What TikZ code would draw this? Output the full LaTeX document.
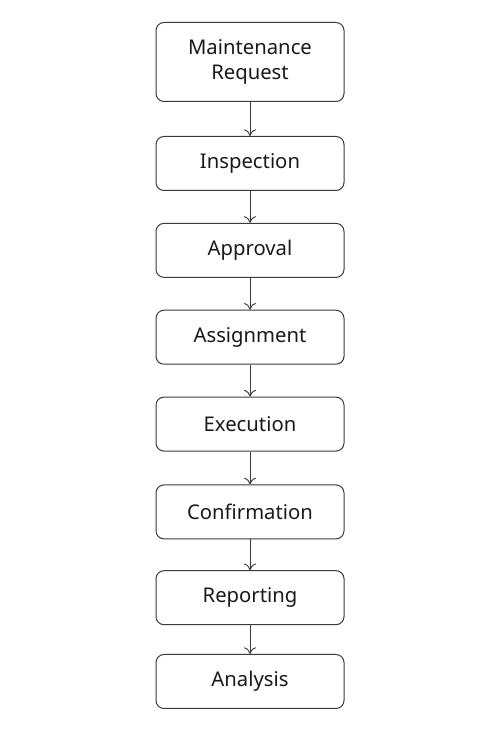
\documentclass[tikz,border=0pt]{standalone}
\usepackage{fontspec}
\setmainfont{Noto Sans}
\usetikzlibrary{positioning,arrows.meta}
\definecolor{linegray}{HTML}{3A3A3A}
\tikzset{
  stepbox/.style={draw=linegray, line width=0.75pt, rounded corners=6pt,
    minimum width=141pt, minimum height=40.5pt, align=center,
    font=\fontsize{15.2}{19}\selectfont, text=black!90},
  flow/.style={-{To[length=5pt,width=9pt]}, draw=linegray, line width=0.7pt}
}
\begin{document}
\begin{tikzpicture}[node distance=23.9pt]
  \useasboundingbox (0,0) rectangle (375pt,562.5pt);
  \node[stepbox, minimum height=59.25pt, anchor=north] (request) at (187.5pt,546pt) {Maintenance\\Request};
  \node[stepbox, below=25.5pt of request] (inspection) {Inspection};
  \node[stepbox, below=of inspection] (approval) {Approval};
  \node[stepbox, below=of approval] (assignment) {Assignment};
  \node[stepbox, below=of assignment] (execution) {Execution};
  \node[stepbox, below=24.6pt of execution] (confirmation) {Confirmation};
  \node[stepbox, below=23.1pt of confirmation] (reporting) {Reporting};
  \node[stepbox, below=21.6pt of reporting] (analysis) {Analysis};
  \begin{scope}[flow]
    \draw (request) to (inspection);
    \draw (inspection) to (approval);
    \draw (approval) to (assignment);
    \draw (assignment) to (execution);
    \draw (execution) to (confirmation);
    \draw (confirmation) to (reporting);
    \draw (reporting) to (analysis);
  \end{scope}
\end{tikzpicture}
\end{document}
